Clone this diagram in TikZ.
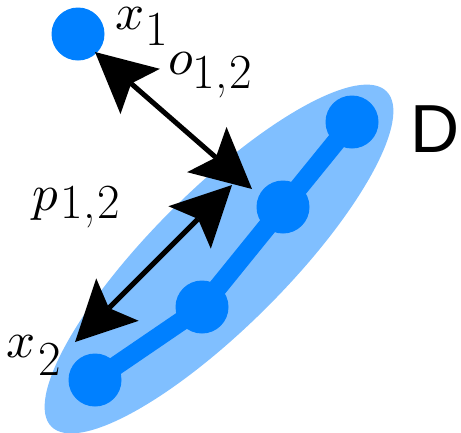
\documentclass[tikz,border=0pt]{standalone}
\usepackage{graphicx}
\usepackage{fontspec}
\newfontfamily\dfont{Liberation Sans}
\usetikzlibrary{arrows.meta,shapes.geometric}
\definecolor{dotblue}{RGB}{0,128,255}
\definecolor{ellblue}{RGB}{128,191,255}
\newcommand\subsz{\fontsize{49}{52}\selectfont}
% nucleus, subscript, drop, kern
\newcommand\lbl[4]{\scalebox{5.1}{$#1$}\kern#4\lower#3\hbox{\subsz #2}}
\tikzset{
  dot/.style={circle,fill=dotblue,minimum size=53pt,inner sep=0pt},
  dimarrow/.style={line width=5pt,
    {Stealth[length=60pt,width=60pt,inset=12pt,line width=0pt]}-{Stealth[length=60pt,width=60pt,inset=12pt,line width=0pt]}},
  lab/.style={anchor=base west,inner sep=0pt}
}
\begin{document}
\begin{tikzpicture}[x=1pt,y=-1pt]
\useasboundingbox (0,0) rectangle (461,432);
\node[ellipse,fill=ellblue,minimum width=474pt,minimum height=136pt,rotate=45,inner sep=0pt] (D) at (219,259) {};
\node[dot] (x1) at (78,34) {};
\node[dot] (d1) at (95,380) {};
\node[dot] (d2) at (202,307) {};
\node[dot] (d3) at (283,207) {};
\node[dot] (d4) at (352,122) {};
\draw[dotblue,line width=19pt,line join=round] (d1.center) -- (d2.center) -- (d3.center) -- (d4.center);
\coordinate (o1) at (95,52);
\coordinate (o2) at (252,189);
\coordinate (p1) at (232,185);
\coordinate (p2) at (75,342);
\draw[dimarrow] (o1) -- (o2);
\draw[dimarrow] (p2) -- (p1);
\node[lab] (lx1) at (115,29) {\lbl{x}{1}{16pt}{1pt}};
\node[lab] (lo) at (168,74) {\lbl{o}{1,\kern2pt2}{14pt}{0pt}};
\node[lab] (lp) at (32,210) {\lbl{p}{1,\kern2pt2}{8pt}{3pt}};
\node[lab] (lx2) at (6,357) {\lbl{x}{2}{18pt}{3pt}};
\node[lab,font=\dfont\fontsize{68}{80}\selectfont] (Dl) at (410,152) {D};
\end{tikzpicture}
\end{document}
